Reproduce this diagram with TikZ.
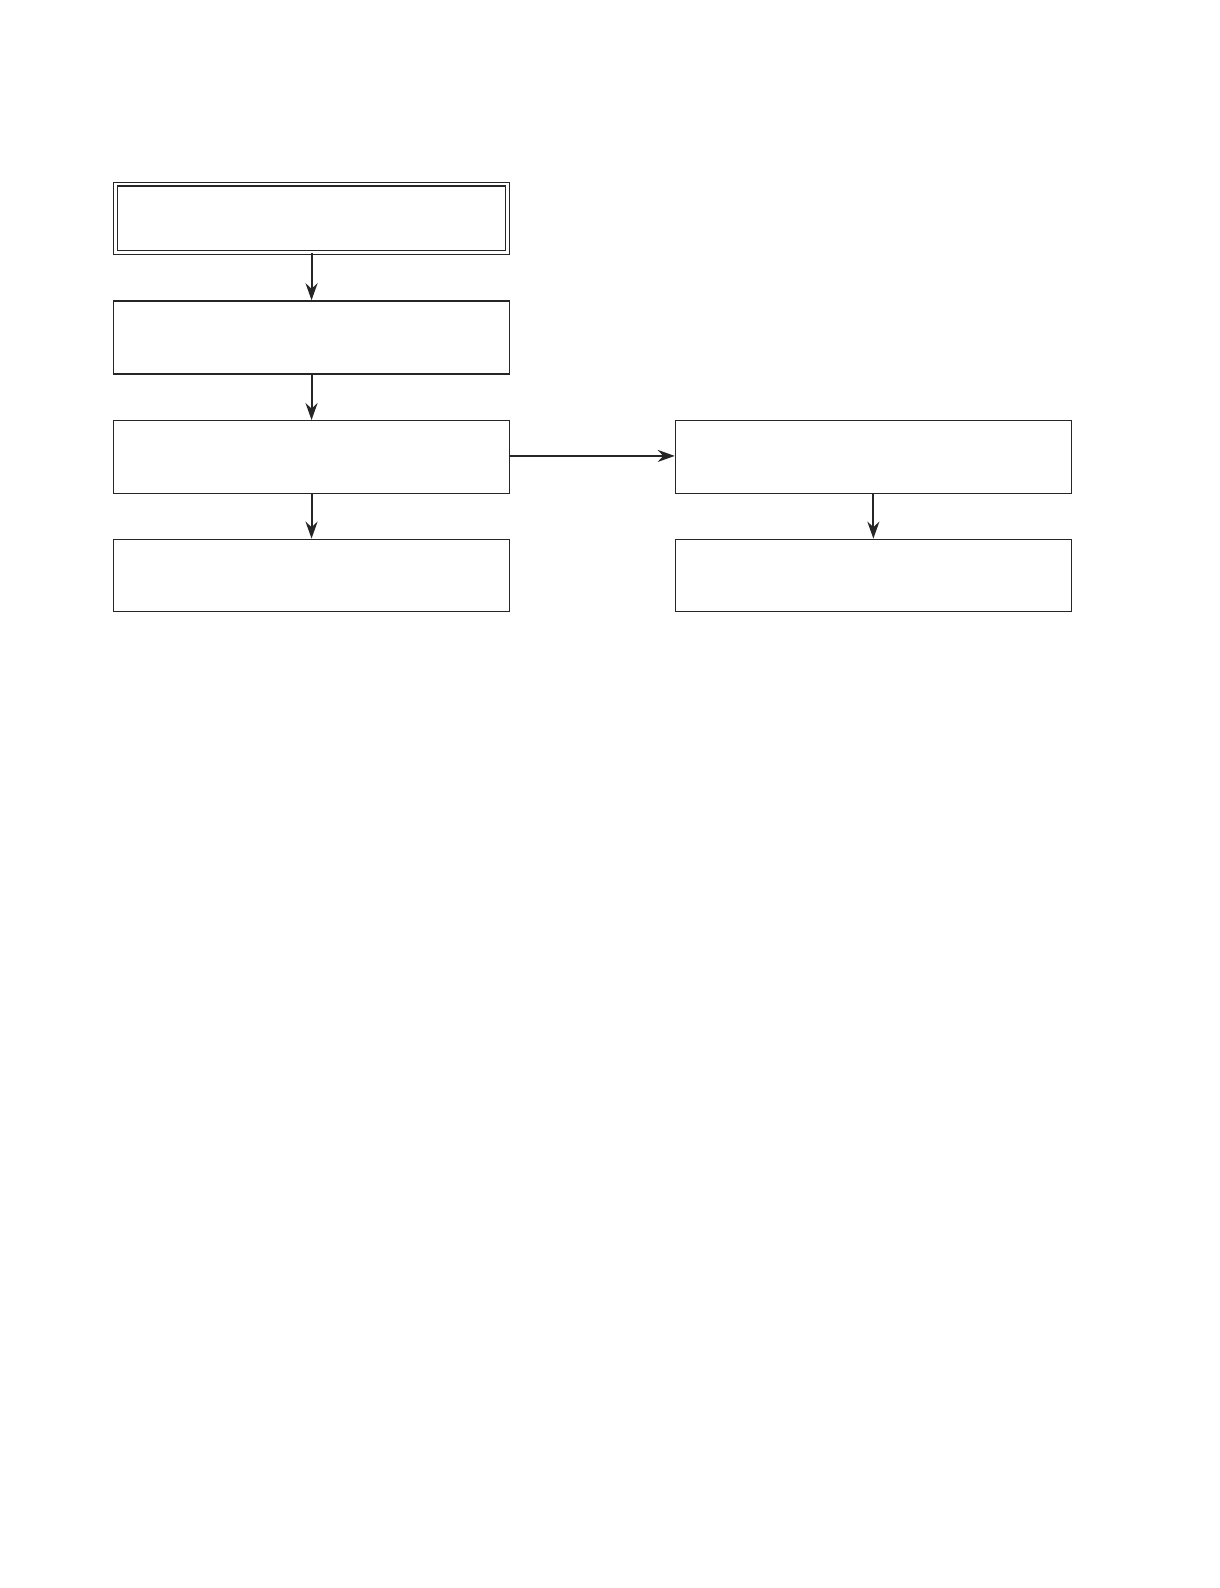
\documentclass[tikz,border=0pt]{standalone}
\usetikzlibrary{arrows.meta}

\tikzset{
  stepbox/.style={draw=black!85, line width=0.7pt, minimum width=7.92cm, minimum height=1.45cm, inner sep=0pt},
  startbox/.style={stepbox, double, double distance=1.5pt, line width=0.65pt, minimum width=7.84cm, minimum height=1.37cm},
  flow/.style={draw=black!85, line width=1.2pt, -{Stealth[length=0.34cm, width=0.24cm]}}
}

\begin{document}
\begin{tikzpicture}[x=0.02026cm, y=-0.02026cm]
\useasboundingbox (0,0) rectangle (24.4cm,-31.76cm);
\node[startbox] (start) at (307.5,215.5) {};
\node[stepbox, line width=1pt] (second) at (307.5,333) {};
\node[stepbox] (third) at (307.5,451) {};
\node[stepbox] (fourth) at (307.5,568) {};
\node[stepbox] (side) at (862,451) {};
\node[stepbox] (sideend) at (862,568) {};
\draw[flow] (start) -- (second);
\draw[flow] (second) -- (third);
\draw[flow] (third) -- (fourth);
\draw[flow] (third.east |- 0,450) -- (side.west |- 0,450);
\draw[flow] (side) -- (sideend);
\end{tikzpicture}
\end{document}
